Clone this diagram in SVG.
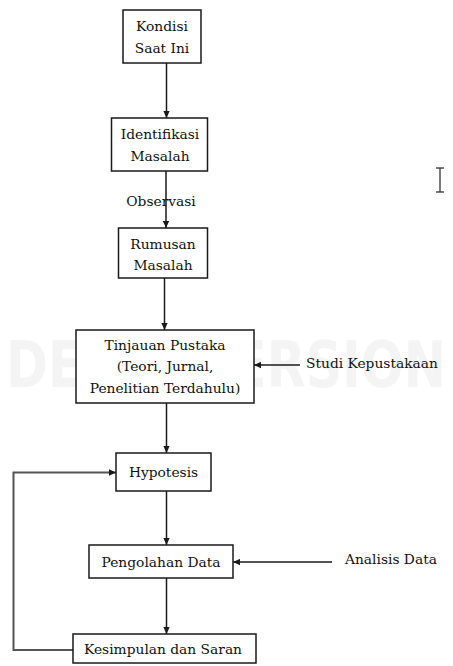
<svg xmlns="http://www.w3.org/2000/svg" width="453" height="666" viewBox="0 0 453 666">
<style>
.box{fill:#fff;stroke:#1a1a1a;stroke-width:1.5}
.t{font-family:"DejaVu Serif","Liberation Serif",serif;font-size:13.8px;fill:#111;text-anchor:middle}
.l{font-family:"DejaVu Serif","Liberation Serif",serif;font-size:13.8px;fill:#111}
.c{fill:none;stroke:#1a1a1a;stroke-width:1.5}
.wm{font-family:"DejaVu Sans","Liberation Sans",sans-serif;font-weight:bold;font-size:64px;fill:#f4f4f4}
</style>
<defs>
<marker id="ah" viewBox="0 0 10 10" refX="10" refY="5" markerWidth="7" markerHeight="7" orient="auto" markerUnits="userSpaceOnUse">
<path d="M0,0.5 L10,5 L0,9.5 z" fill="#1a1a1a"/>
</marker>
</defs>
<rect width="453" height="666" fill="#fff"/>
<text class="wm" x="226" y="387" text-anchor="middle" textLength="440" lengthAdjust="spacingAndGlyphs">DEMO VERSION</text>
<g id="connectors">
<line class="c" x1="166.5" y1="63" x2="166.5" y2="118" marker-end="url(#ah)"/>
<line class="c" x1="166" y1="171" x2="166" y2="228" marker-end="url(#ah)"/>
<line class="c" x1="164.5" y1="278" x2="164.5" y2="330" marker-end="url(#ah)"/>
<line class="c" x1="300" y1="365" x2="254" y2="365" marker-end="url(#ah)"/>
<line class="c" x1="166.5" y1="403" x2="166.5" y2="453" marker-end="url(#ah)"/>
<line class="c" x1="166.5" y1="491" x2="166.5" y2="545" marker-end="url(#ah)"/>
<line class="c" x1="332" y1="562" x2="233" y2="562" marker-end="url(#ah)"/>
<line class="c" x1="166.5" y1="578" x2="166.5" y2="634" marker-end="url(#ah)"/>
<polyline points="73,650 13.5,650 13.5,472.5 116,472.5" fill="none" stroke="#555" stroke-width="2" marker-end="url(#ah)"/>
</g>
<g id="kondisi"><rect class="box" x="123" y="10" width="78" height="53"/><text class="t" x="162" y="31">Kondisi</text><text class="t" x="162" y="53">Saat Ini</text></g>
<g id="identifikasi"><rect class="box" x="111.5" y="118" width="96" height="53"/><text class="t" x="160" y="139">Identifikasi</text><text class="t" x="160" y="161">Masalah</text></g>
<g id="observasi"><text class="t" x="161" y="206">Observasi</text></g>
<g id="rumusan"><rect class="box" x="118.5" y="228" width="89" height="50"/><text class="t" x="163" y="249">Rumusan</text><text class="t" x="163" y="270">Masalah</text></g>
<g id="tinjauan"><rect class="box" x="76" y="330" width="178" height="73"/><text class="t" x="165" y="350">Tinjauan Pustaka</text><text class="t" x="165" y="371">(Teori, Jurnal,</text><text class="t" x="165" y="393">Penelitian Terdahulu)</text></g>
<g id="studi"><text class="l" x="306" y="368">Studi Kepustakaan</text></g>
<g id="hypotesis"><rect class="box" x="116" y="453" width="95" height="38"/><text class="t" x="163.5" y="477">Hypotesis</text></g>
<g id="pengolahan"><rect class="box" x="89" y="545" width="144" height="33"/><text class="t" x="161" y="567">Pengolahan Data</text></g>
<g id="analisis"><text class="l" x="345" y="564">Analisis Data</text></g>
<g id="kesimpulan"><rect class="box" x="73" y="634" width="183" height="29"/><text class="t" x="163" y="654">Kesimpulan dan Saran</text></g>
<g id="cursor" stroke="#333" stroke-width="1.3" fill="none">
<line x1="440" y1="168" x2="440" y2="192"/>
<line x1="436" y1="168" x2="444" y2="168"/>
<line x1="436" y1="192" x2="444" y2="192"/>
</g>
</svg>
